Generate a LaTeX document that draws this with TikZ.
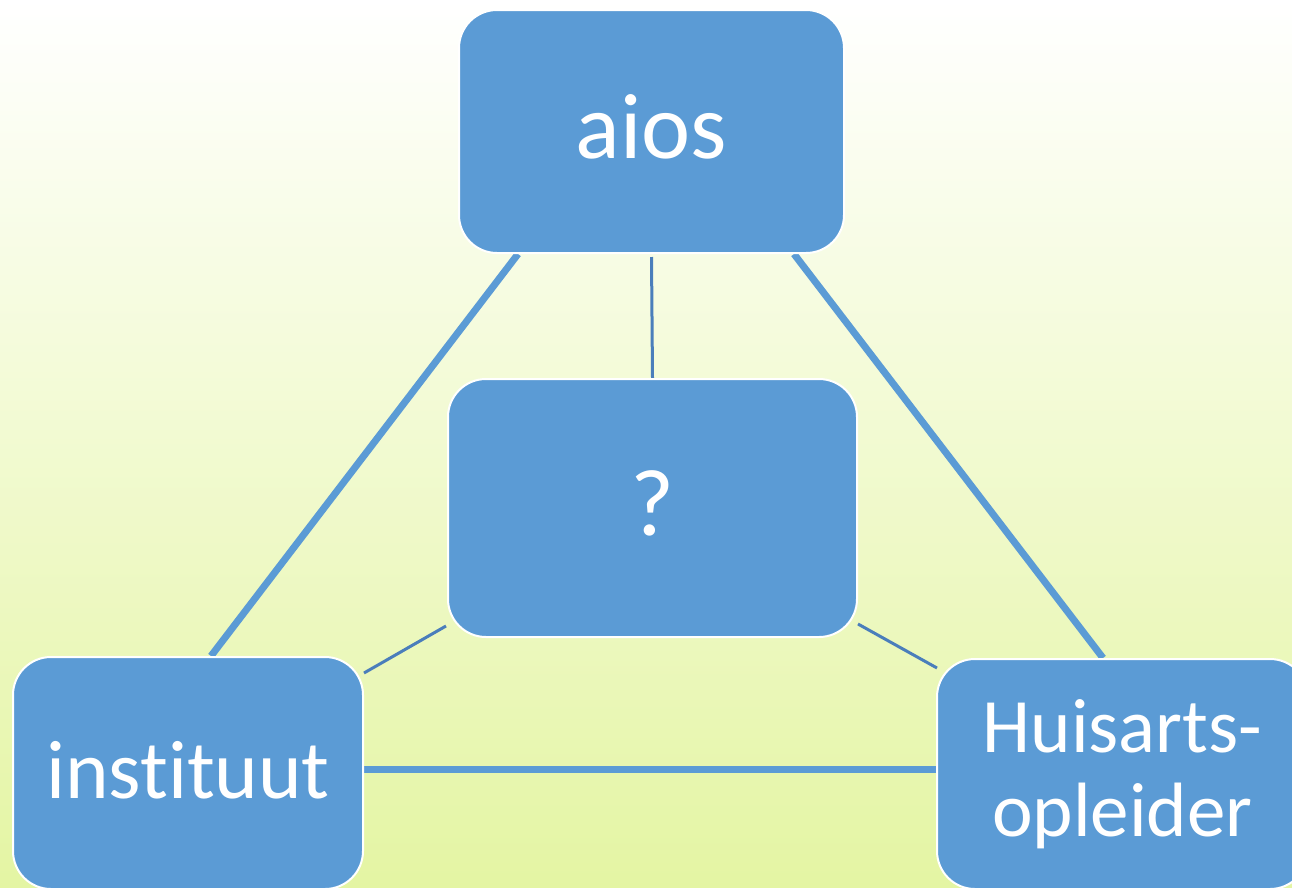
\documentclass[tikz,border=0pt]{standalone}
\usepackage{fontspec}
\setmainfont{Carlito}[Ligatures={NoCommon,NoRare}]
\definecolor{boxblue}{HTML}{5B9BD5}
\definecolor{linkblue}{HTML}{4A7EBB}
\definecolor{bggreen}{HTML}{E4F5A3}
\pgfdeclarelayer{bglayer}
\pgfdeclarelayer{linklayer}
\pgfsetlayers{bglayer,linklayer,main}
\begin{document}
\begin{tikzpicture}[x=1pt,y=-1pt,
  box/.style={draw=white, line width=2pt, fill=boxblue, rounded corners=38pt, inner sep=0pt, text=white},
  thicklink/.style={draw=boxblue, line width=7pt},
  thinlink/.style={draw=linkblue, line width=3pt}]
\useasboundingbox (0,0) rectangle (1292,887);
\clip (0,0) rectangle (1292,887);
\node[box, minimum width=385pt, minimum height=243pt, text height=53pt, text depth=0pt,
  font=\fontsize{93}{110}\selectfont] (aios) at (651.5,131.5) {aios};
\node[box, minimum width=409pt, minimum height=258pt, text height=54pt, text depth=0pt,
  font=\fontsize{95}{110}\selectfont] (q) at (652.5,508) {?};
\node[box, minimum width=350pt, minimum height=232pt, text height=50pt, text depth=0pt,
  font=\fontsize{83}{100}\selectfont] (inst) at (188,773) {instituut};
\node[box, minimum width=371pt, minimum height=230pt, align=center,
  font=\fontsize{77}{84}\selectfont] (huis) at (1122.5,774) {Huisarts-\\opleider};
\begin{pgfonlayer}{bglayer}
\shade[top color=white, bottom color=bggreen] (0,0) rectangle (1292,887);
\end{pgfonlayer}
\begin{pgfonlayer}{linklayer}
\draw[thicklink] ([xshift=60pt]aios.south west) -- ([xshift=199pt]inst.north west);
\draw[thicklink] ([xshift=-51pt]aios.south east) -- ([xshift=167pt]huis.north west);
\draw[thicklink] ([yshift=4pt]inst.east) -- ([yshift=5pt]huis.west);
\draw[thinlink] ([yshift=-3pt]aios.south) -- (q.north);
\draw[thinlink] ([xshift=-1pt,yshift=12pt]q.south west) -- ([yshift=-17pt]inst.north east);
\draw[thinlink] ([yshift=14pt]q.south east) -- ([xshift=1pt,yshift=-10pt]huis.north west);
\end{pgfonlayer}
\end{tikzpicture}
\end{document}
